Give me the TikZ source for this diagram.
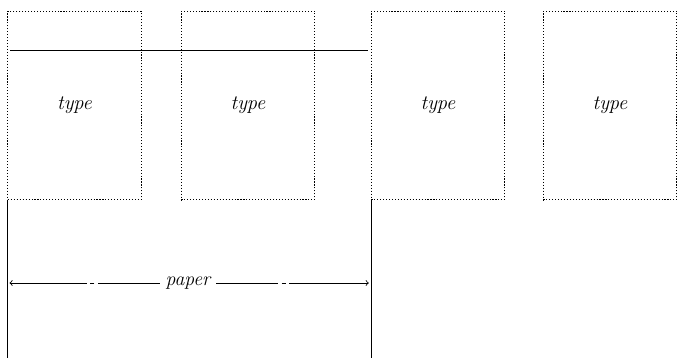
\documentclass[tikz,border=0pt]{standalone}
\usetikzlibrary{arrows}
\tikzset{
  typebox/.style={draw, line width=0.7pt, dash pattern=on 0.8pt off 1.3pt,
    minimum width=3.33cm, minimum height=4.72cm, inner sep=0pt,
    font=\fontsize{14.5}{16}\selectfont\itshape},
  rule/.style={line width=0.5pt},
  dimline/.style={line width=0.6pt, dash pattern=on 1.55cm off 2.5pt on 3pt off 2.5pt on 5cm off 1pt}
}
\begin{document}
\begin{tikzpicture}[>=to, x=0.025cm, y=-0.025cm]
			\useasboundingbox (0,0) rectangle (679,358);
			% Satzspiegel
			\node[typebox] (b1) at (74.5,105.5) {type};
			\node[typebox] (b2) at (248,105.5) {type};
			\node[typebox] (b3) at (438,105.5) {type};
			\node[typebox] (b4) at (610,105.5) {type};

			% Linie oben
			\coordinate (h1) at (10,50);
			\coordinate (h2) at (368,50);
			\draw[line width=0.7pt] (h1) -- (h2);

			% Papierkanten
			\coordinate (u1) at (b1.south west |- 0,358);
			\coordinate (u3) at (b3.south west |- 0,358);
			\draw[rule] (b1.south west) -- (u1);
			\draw[rule] (b3.south west) -- (u3);

			% Papierbreite
			\node[font=\fontsize{14}{16}\selectfont\itshape, inner xsep=4pt] (pp) at (188,283) {paper};
			\coordinate (p1) at (b1.west |- pp);
			\coordinate (p3) at (b3.west |- pp);
			\draw[->, dimline] (pp.west) -- ([xshift=1.5pt]p1);
			\draw[->, dimline] (pp.east) -- ([xshift=-1.5pt]p3);
		\end{tikzpicture}
\end{document}
